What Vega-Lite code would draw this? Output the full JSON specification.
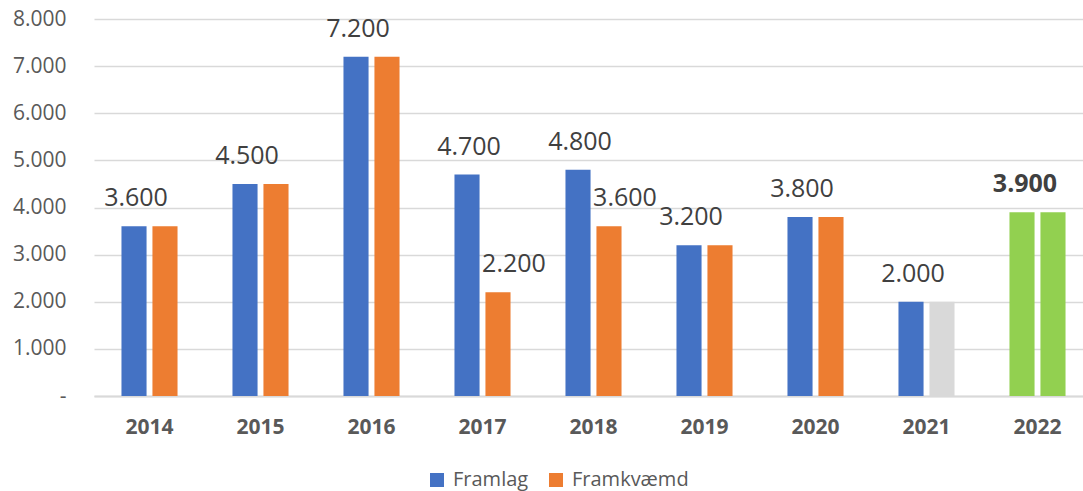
{
  "$schema": "https://vega.github.io/schema/vega-lite/v6.json",
  "width": 989,
  "height": 377,
  "autosize": "none",
  "padding": {"left": 94, "top": 19, "right": 0, "bottom": 95},
  "background": "white",
  "data": {"values": [
    {"year": "2014", "series": "Framlag", "group": "Framlag", "value": 3600},
    {"year": "2014", "series": "Framkvæmd", "group": "Framkvæmd", "value": 3600},
    {"year": "2015", "series": "Framlag", "group": "Framlag", "value": 4500},
    {"year": "2015", "series": "Framkvæmd", "group": "Framkvæmd", "value": 4500},
    {"year": "2016", "series": "Framlag", "group": "Framlag", "value": 7200},
    {"year": "2016", "series": "Framkvæmd", "group": "Framkvæmd", "value": 7200},
    {"year": "2017", "series": "Framlag", "group": "Framlag", "value": 4700},
    {"year": "2017", "series": "Framkvæmd", "group": "Framkvæmd", "value": 2200},
    {"year": "2018", "series": "Framlag", "group": "Framlag", "value": 4800},
    {"year": "2018", "series": "Framkvæmd", "group": "Framkvæmd", "value": 3600},
    {"year": "2019", "series": "Framlag", "group": "Framlag", "value": 3200},
    {"year": "2019", "series": "Framkvæmd", "group": "Framkvæmd", "value": 3200},
    {"year": "2020", "series": "Framlag", "group": "Framlag", "value": 3800},
    {"year": "2020", "series": "Framkvæmd", "group": "Framkvæmd", "value": 3800},
    {"year": "2021", "series": "Framlag", "group": "Framlag", "value": 2000},
    {"year": "2021", "series": "Framkvæmd", "group": "Óstaðfest", "value": 2000},
    {"year": "2022", "series": "Framlag", "group": "Áætlun", "value": 3900},
    {"year": "2022", "series": "Framkvæmd", "group": "Áætlun", "value": 3900}
  ]},
  "transform": [
    {"calculate": "replace(format(datum.value, ','), ',', '.')", "as": "label"}
  ],
  "encoding": {
    "x": {
      "field": "year", "type": "nominal", "sort": null,
      "scale": {"range": [0, 999], "paddingInner": 0.495, "paddingOuter": 0.2475},
      "axis": {
        "title": null, "labelAngle": 0, "ticks": false, "labelPadding": 20,
        "labelFont": "Open Sans", "labelFontSize": 21, "labelFontWeight": "bold",
        "labelColor": "#595959", "domainColor": "#d9d9d9", "domainWidth": 2,
        "grid": false
      }
    },
    "xOffset": {
      "field": "series", "type": "nominal", "sort": ["Framlag", "Framkvæmd"],
      "scale": {"paddingInner": 0.19, "paddingOuter": 0}
    },
    "y": {
      "field": "value", "type": "quantitative",
      "scale": {"domain": [0, 8000], "nice": false},
      "axis": {
        "title": null, "values": [0, 1000, 2000, 3000, 4000, 5000, 6000, 7000, 8000],
        "labelExpr": "datum.value == 0 ? '-' : replace(format(datum.value, ','), ',', '.')",
        "domain": false, "ticks": false, "labelPadding": 28,
        "labelFont": "Open Sans", "labelFontSize": 21, "labelColor": "#595959",
        "gridColor": "#d9d9d9", "gridWidth": 1.5
      }
    }
  },
  "layer": [
    {
      "mark": {"type": "bar"},
      "encoding": {
        "color": {
          "field": "group", "type": "nominal",
          "scale": {
            "domain": ["Framlag", "Framkvæmd", "Óstaðfest", "Áætlun"],
            "range": ["#4472C4", "#ED7D31", "#D9D9D9", "#92D050"]
          },
          "legend": {
            "values": ["Framlag", "Framkvæmd"],
            "title": null, "orient": "none", "direction": "horizontal",
            "legendX": 333, "legendY": 451,
            "symbolType": "square", "symbolSize": 196, "symbolStrokeWidth": 0,
            "labelFont": "Open Sans", "labelFontSize": 20, "labelColor": "#595959",
            "labelOffset": 6, "columnPadding": 17
          }
        }
      }
    },
    {
      "transform": [{"filter": "datum.series == 'Framlag' && datum.year != '2022'"}],
      "mark": {"type": "text", "baseline": "alphabetic", "dy": -20, "dx": 2, "font": "Open Sans", "fontSize": 25, "color": "#404040"},
      "encoding": {"text": {"field": "label", "type": "nominal"}}
    },
    {
      "transform": [{"filter": "datum.series == 'Framkvæmd' && (datum.year == '2017' || datum.year == '2018')"}],
      "mark": {"type": "text", "baseline": "alphabetic", "dy": -20, "dx": 16, "font": "Open Sans", "fontSize": 25, "color": "#404040"},
      "encoding": {"text": {"field": "label", "type": "nominal"}}
    },
    {
      "transform": [{"filter": "datum.series == 'Framlag' && datum.year == '2022'"}],
      "mark": {"type": "text", "baseline": "alphabetic", "dy": -20, "dx": 3, "font": "Open Sans", "fontSize": 25, "fontWeight": "bold", "color": "#404040"},
      "encoding": {"text": {"field": "label", "type": "nominal"}}
    }
  ],
  "config": {"view": {"stroke": null}}
}
